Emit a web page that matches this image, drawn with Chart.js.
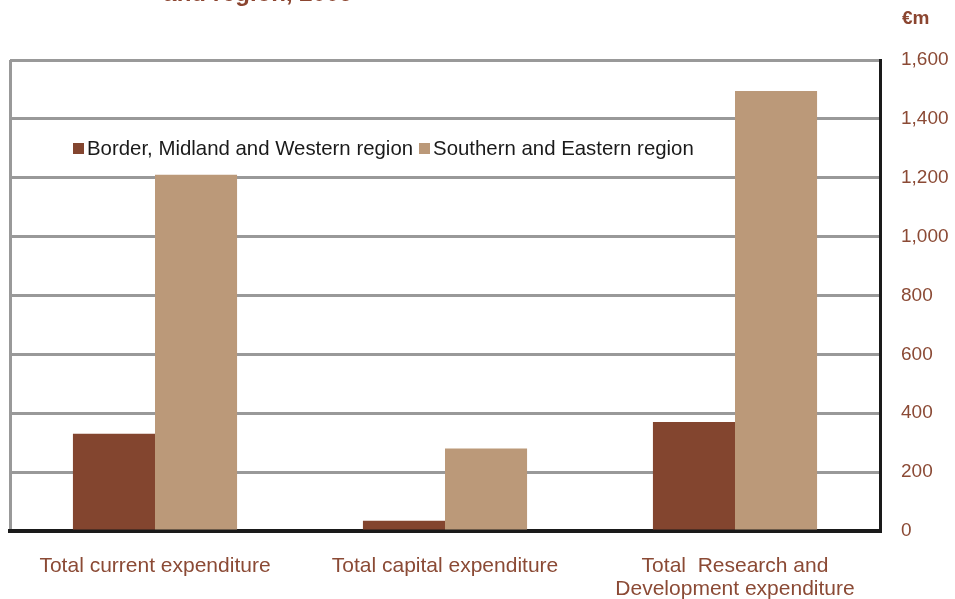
<!DOCTYPE html>
<html>
<head>
<meta charset="utf-8">
<script src="https://cdn.jsdelivr.net/npm/chart.js@4/dist/chart.umd.min.js"></script>
<style>
    body { margin: 0; background: #fff; font-family: "Liberation Sans", Arial, sans-serif; }
    #wrap { position: relative; width: 955px; height: 599px; overflow: hidden; }
    #title { position: absolute; left: 0; width: 516px; top: -19px; text-align: center; font-weight: bold; font-size: 24px; line-height: 1; color: #8B4530; }
    #unit { position: absolute; left: 902px; top: 7px; font-weight: bold; font-size: 19px; color: #8B4530; }
    #legend { position: absolute; left: 73px; top: 137px; display: flex; align-items: center; font-size: 20.4px; color: #1a1a1a; }
    #legend span.box { display: inline-block; width: 11px; height: 11px; margin-right: 3px; }
    #legend span.item { display: flex; align-items: center; margin-right: 6px; }
</style>
</head>
<body>
<div id="wrap">
    <canvas id="myChart" width="955" height="599"></canvas>
    <div id="title">and region, 2009</div>
    <div id="unit">€m</div>
    <div id="legend"></div>
</div>
<script>
const categories = ["Total current expenditure", "Total capital expenditure", ["Total  Research and", "Development expenditure"]]
const seriesNames = ["Border, Midland and Western region", "Southern and Eastern region"]
const bmwValues = [330, 35, 370]
const seValues = [1210, 280, 1495]
const yTicks = [0, 200, 400, 600, 800, 1000, 1200, 1400, 1600]

const colores = ["#83452F", "#BB9979"]
const marron = "#8B4A35"

const legend = document.getElementById("legend")
seriesNames.forEach((name, i) => {
    const item = document.createElement("span")
    item.className = "item"
    item.innerHTML = `<span class="box" style="background:${colores[i]}"></span>${name}`
    legend.appendChild(item)
})

const context = document.getElementById('myChart').getContext('2d')
new Chart(context, {
    type: 'bar',
    data: {
        labels: categories,
        datasets: [
            { label: seriesNames[0], data: bmwValues, backgroundColor: colores[0] },
            { label: seriesNames[1], data: seValues, backgroundColor: colores[1] }
        ]
    },
    options: {
        responsive: false,
        animation: false,
        layout: { padding: { left: 10, top: 60, right: 0, bottom: 0 } },
        datasets: { bar: { barPercentage: 1, categoryPercentage: 0.566 } },
        plugins: { legend: { display: false }, tooltip: { enabled: false } },
        scales: {
            x: {
                grid: {
                    offset: true,
                    drawTicks: false,
                    lineWidth: 3,
                    color: (ctx) => ctx.index === 0 ? '#999999' : 'rgba(0,0,0,0)'
                },
                border: { color: '#1a1a1a', width: 4 },
                ticks: {
                    color: marron,
                    padding: 24,
                    font: { family: '"Liberation Sans", Arial', size: 21, lineHeight: 1.1 },
                    maxRotation: 0,
                    autoSkip: false
                },
                afterFit: (scale) => { scale.height = 68 }
            },
            y: {
                position: 'right',
                min: yTicks[0],
                max: yTicks[yTicks.length - 1],
                afterBuildTicks: (scale) => { scale.ticks = yTicks.map(v => ({ value: v })) },
                grid: { color: '#999999', lineWidth: 3, drawTicks: false },
                border: { color: '#1a1a1a', width: 3 },
                ticks: {
                    color: marron,
                    padding: 21,
                    font: { family: '"Liberation Sans", Arial', size: 19 },
                    callback: (v) => v.toLocaleString('en-US')
                },
                afterFit: (scale) => { scale.width = 75 }
            }
        }
    }
})
</script>
</body>
</html>
